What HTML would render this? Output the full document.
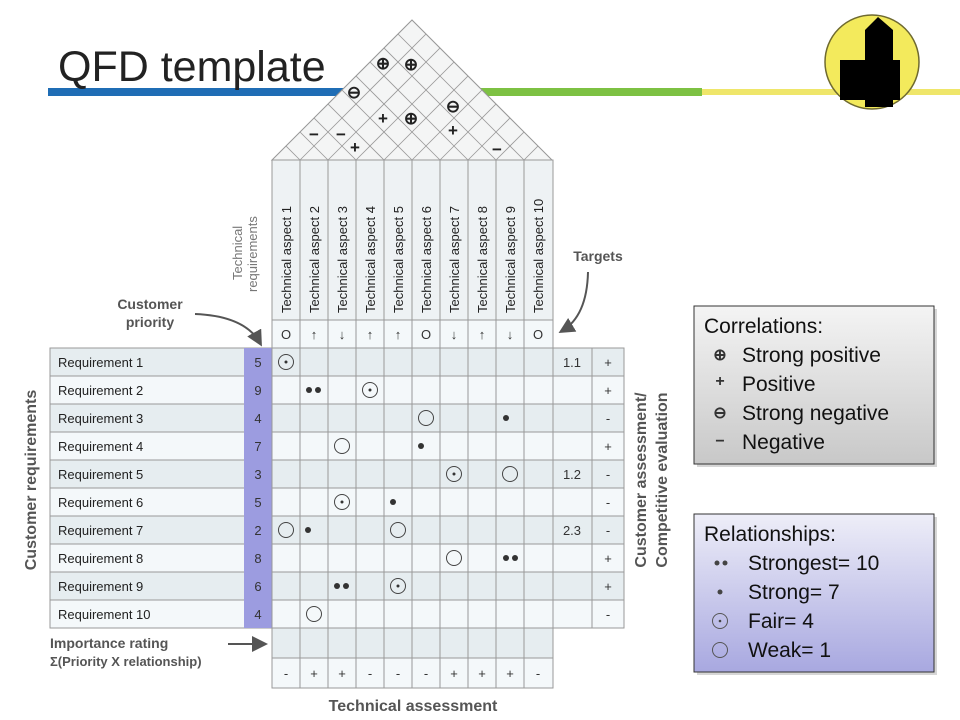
<!DOCTYPE html>
<html><head><meta charset="utf-8"><style>
html,body{margin:0;padding:0;background:#fff}
svg{display:block}
text{font-family:"Liberation Sans",sans-serif}
</style></head><body>
<svg width="960" height="720" viewBox="0 0 960 720" xmlns="http://www.w3.org/2000/svg">
<defs>
<clipPath id="roof"><polygon points="272,160 412,20 552,160"/></clipPath>
<linearGradient id="gg" x1="0" y1="0" x2="0" y2="1"><stop offset="0" stop-color="#f4f4f4"/><stop offset="1" stop-color="#c8c8c8"/></linearGradient>
<linearGradient id="pg" x1="0" y1="0" x2="0" y2="1"><stop offset="0" stop-color="#eeeef8"/><stop offset="1" stop-color="#a8a8e0"/></linearGradient>
<marker id="ah" markerWidth="8" markerHeight="8" refX="6" refY="4" orient="auto"><path d="M0,0 L8,4 L0,8 z" fill="#555"/></marker>
</defs>
<!-- bars -->
<rect x="48" y="88" width="300" height="8" fill="#1f6db5"/>
<rect x="480" y="88" width="222" height="8" fill="#7dc143"/>
<rect x="702" y="89" width="258" height="6" fill="#efe66a"/>
<text x="58" y="81" font-size="43" fill="#222">QFD template</text>
<!-- logo -->
<circle cx="872" cy="62" r="47" fill="#f3ea5c" stroke="#6f6a30" stroke-width="1.5"/>
<polygon points="865,30 878,17 893,30 893,60 900,60 900,100 893,100 893,107 865,107 865,100 840,100 840,60 865,60" fill="#000"/>
<!-- roof -->
<polygon points="272,160 412,20 552,160" fill="#f4f5f5" stroke="#999" stroke-width="1"/>
<g clip-path="url(#roof)" stroke="#999" stroke-width="0.8">
<line x1="272" y1="160" x2="472" y2="-40"/><line x1="300" y1="160" x2="500" y2="-40"/><line x1="328" y1="160" x2="528" y2="-40"/><line x1="356" y1="160" x2="556" y2="-40"/><line x1="384" y1="160" x2="584" y2="-40"/><line x1="412" y1="160" x2="612" y2="-40"/><line x1="440" y1="160" x2="640" y2="-40"/><line x1="468" y1="160" x2="668" y2="-40"/><line x1="496" y1="160" x2="696" y2="-40"/><line x1="524" y1="160" x2="724" y2="-40"/>
<line x1="552" y1="160" x2="352" y2="-40"/><line x1="524" y1="160" x2="324" y2="-40"/><line x1="496" y1="160" x2="296" y2="-40"/><line x1="468" y1="160" x2="268" y2="-40"/><line x1="440" y1="160" x2="240" y2="-40"/><line x1="412" y1="160" x2="212" y2="-40"/><line x1="384" y1="160" x2="184" y2="-40"/><line x1="356" y1="160" x2="156" y2="-40"/><line x1="328" y1="160" x2="128" y2="-40"/><line x1="300" y1="160" x2="100" y2="-40"/>
</g>
<g font-size="17" font-weight="bold" fill="#222" text-anchor="middle">
<text x="383" y="69">⊕</text><text x="411" y="70">⊕</text>
<text x="354" y="98">⊖</text><text x="453" y="112">⊖</text>
<text x="383" y="124">+</text><text x="411" y="124">⊕</text>
<text x="453" y="136">+</text><text x="355" y="153">+</text>
<text x="314" y="140">−</text><text x="341" y="140">−</text><text x="497" y="155">−</text>
</g>
<!-- header area -->
<rect x="272" y="160" width="281" height="188" fill="#eef2f4" stroke="#999"/>
<rect x="272" y="320" width="281" height="28" fill="#f4f8fa" stroke="#999"/>
<g stroke="#999"><line x1="300" y1="160" x2="300" y2="348"/><line x1="328" y1="160" x2="328" y2="348"/><line x1="356" y1="160" x2="356" y2="348"/><line x1="384" y1="160" x2="384" y2="348"/><line x1="412" y1="160" x2="412" y2="348"/><line x1="440" y1="160" x2="440" y2="348"/><line x1="468" y1="160" x2="468" y2="348"/><line x1="496" y1="160" x2="496" y2="348"/><line x1="524" y1="160" x2="524" y2="348"/></g>
<g font-size="13" fill="#222">
<text transform="translate(291,313) rotate(-90)">Technical aspect 1</text>
<text transform="translate(319,313) rotate(-90)">Technical aspect 2</text>
<text transform="translate(347,313) rotate(-90)">Technical aspect 3</text>
<text transform="translate(375,313) rotate(-90)">Technical aspect 4</text>
<text transform="translate(403,313) rotate(-90)">Technical aspect  5</text>
<text transform="translate(431,313) rotate(-90)">Technical aspect  6</text>
<text transform="translate(459,313) rotate(-90)">Technical aspect 7</text>
<text transform="translate(487,313) rotate(-90)">Technical aspect 8</text>
<text transform="translate(515,313) rotate(-90)">Technical aspect 9</text>
<text transform="translate(543,313) rotate(-90)">Technical aspect 10</text>
</g>
<g font-size="13" fill="#333" text-anchor="middle">
<text x="286" y="339">O</text><text x="314" y="339">↑</text><text x="342" y="339">↓</text><text x="370" y="339">↑</text><text x="398" y="339">↑</text><text x="426" y="339">O</text><text x="454" y="339">↓</text><text x="482" y="339">↑</text><text x="510" y="339">↓</text><text x="538" y="339">O</text>
</g>
<!-- rows -->
<g stroke="#999" stroke-width="1">
<rect x="50" y="348" width="574" height="28" fill="#e6edf0"/>
<rect x="50" y="376" width="574" height="28" fill="#f4f8fa"/>
<rect x="50" y="404" width="574" height="28" fill="#e6edf0"/>
<rect x="50" y="432" width="574" height="28" fill="#f4f8fa"/>
<rect x="50" y="460" width="574" height="28" fill="#e6edf0"/>
<rect x="50" y="488" width="574" height="28" fill="#f4f8fa"/>
<rect x="50" y="516" width="574" height="28" fill="#e6edf0"/>
<rect x="50" y="544" width="574" height="28" fill="#f4f8fa"/>
<rect x="50" y="572" width="574" height="28" fill="#e6edf0"/>
<rect x="50" y="600" width="574" height="28" fill="#f4f8fa"/>
<rect x="272" y="628" width="281" height="30" fill="#e6edf0"/>
<rect x="272" y="658" width="281" height="30" fill="#f4f8fa"/>
</g>
<rect x="244" y="348" width="28" height="280" fill="#9c9ce0"/>
<g stroke="#999"><line x1="300" y1="348" x2="300" y2="688"/><line x1="328" y1="348" x2="328" y2="688"/><line x1="356" y1="348" x2="356" y2="688"/><line x1="384" y1="348" x2="384" y2="688"/><line x1="412" y1="348" x2="412" y2="688"/><line x1="440" y1="348" x2="440" y2="688"/><line x1="468" y1="348" x2="468" y2="688"/><line x1="496" y1="348" x2="496" y2="688"/><line x1="524" y1="348" x2="524" y2="688"/><line x1="553" y1="348" x2="553" y2="628"/><line x1="592" y1="348" x2="592" y2="628"/><line x1="272" y1="348" x2="272" y2="688"/></g>
<g font-size="13" fill="#222">
<text x="58" y="367">Requirement 1</text><text x="58" y="395">Requirement 2</text><text x="58" y="423">Requirement 3</text><text x="58" y="451">Requirement 4</text><text x="58" y="479">Requirement 5</text><text x="58" y="507">Requirement 6</text><text x="58" y="535">Requirement 7</text><text x="58" y="563">Requirement 8</text><text x="58" y="591">Requirement 9</text><text x="58" y="619">Requirement 10</text>
</g>
<g font-size="13" fill="#333" text-anchor="middle">
<text x="258" y="367">5</text><text x="258" y="395">9</text><text x="258" y="423">4</text><text x="258" y="451">7</text><text x="258" y="479">3</text><text x="258" y="507">5</text><text x="258" y="535">2</text><text x="258" y="563">8</text><text x="258" y="591">6</text><text x="258" y="619">4</text>
<text x="572" y="367">1.1</text><text x="572" y="479">1.2</text><text x="572" y="535">2.3</text>
<text x="608" y="367">+</text><text x="608" y="395">+</text><text x="608" y="423">-</text><text x="608" y="451">+</text><text x="608" y="479">-</text><text x="608" y="507">-</text><text x="608" y="535">-</text><text x="608" y="563">+</text><text x="608" y="591">+</text><text x="608" y="619">-</text>
<text x="286" y="678">-</text><text x="314" y="678">+</text><text x="342" y="678">+</text><text x="370" y="678">-</text><text x="398" y="678">-</text><text x="426" y="678">-</text><text x="454" y="678">+</text><text x="482" y="678">+</text><text x="510" y="678">+</text><text x="538" y="678">-</text>
</g>
<!-- relationship symbols -->
<g fill="none" stroke="#444" stroke-width="1">
<circle cx="286" cy="362" r="7.5"/><circle cx="370" cy="390" r="7.5"/><circle cx="426" cy="418" r="7.5"/><circle cx="342" cy="446" r="7.5"/><circle cx="454" cy="474" r="7.5"/><circle cx="510" cy="474" r="7.5"/><circle cx="342" cy="502" r="7.5"/><circle cx="286" cy="530" r="7.5"/><circle cx="398" cy="530" r="7.5"/><circle cx="454" cy="558" r="7.5"/><circle cx="398" cy="586" r="7.5"/><circle cx="314" cy="614" r="7.5"/>
</g>
<g fill="#333">
<circle cx="286" cy="362" r="1.5"/><circle cx="370" cy="390" r="1.5"/><circle cx="454" cy="474" r="1.5"/><circle cx="342" cy="502" r="1.5"/><circle cx="398" cy="586" r="1.5"/>
<circle cx="309" cy="390" r="3"/><circle cx="318" cy="390" r="3"/>
<circle cx="506" cy="418" r="3"/><circle cx="421" cy="446" r="3"/><circle cx="393" cy="502" r="3"/><circle cx="308" cy="530" r="3"/>
<circle cx="506" cy="558" r="3"/><circle cx="515" cy="558" r="3"/>
<circle cx="337" cy="586" r="3"/><circle cx="346" cy="586" r="3"/>
</g>
<!-- labels -->
<g font-size="13" fill="#777"><text transform="translate(242,280) rotate(-90)">Technical</text><text transform="translate(257,292) rotate(-90)">requirements</text></g>
<g font-size="14" font-weight="bold" fill="#555">
<text x="150" y="309" text-anchor="middle">Customer</text><text x="150" y="327" text-anchor="middle">priority</text>
<text x="598" y="261" text-anchor="middle">Targets</text>
<text x="50" y="648">Importance rating</text><text x="50" y="666" font-size="13">Σ(Priority X relationship)</text>
</g>
<text x="413" y="711" font-size="16" font-weight="bold" fill="#555" text-anchor="middle">Technical assessment</text>
<text transform="translate(36,480) rotate(-90)" font-size="16" font-weight="bold" fill="#555" text-anchor="middle">Customer requirements</text>
<text transform="translate(646,480) rotate(-90)" font-size="16" font-weight="bold" fill="#555" text-anchor="middle">Customer assessment/</text>
<text transform="translate(667,480) rotate(-90)" font-size="16" font-weight="bold" fill="#555" text-anchor="middle">Competitive evaluation</text>
<g fill="none" stroke="#555" stroke-width="2">
<path d="M195,314 Q245,316 260,343" marker-end="url(#ah)"/>
<path d="M588,272 Q587,316 562,331" marker-end="url(#ah)"/>
<path d="M228,644 L264,644" marker-end="url(#ah)"/>
</g>
<!-- legends -->
<rect x="697" y="309" width="240" height="158" fill="#999" opacity="0.4"/>
<rect x="694" y="306" width="240" height="158" fill="url(#gg)" stroke="#333"/>
<g font-size="21" fill="#111">
<text x="704" y="333">Correlations:</text>
<text x="742" y="362">Strong positive</text><text x="742" y="391">Positive</text><text x="742" y="420">Strong negative</text><text x="742" y="449">Negative</text>
</g>
<g font-size="16" font-weight="bold" fill="#333" text-anchor="middle"><text x="720" y="360">⊕</text><text x="720" y="386">+</text><text x="720" y="418">⊖</text><text x="720" y="446">−</text></g>
<rect x="697" y="517" width="240" height="158" fill="#999" opacity="0.4"/>
<rect x="694" y="514" width="240" height="158" fill="url(#pg)" stroke="#333"/>
<g font-size="21" fill="#111">
<text x="704" y="541">Relationships:</text>
<text x="748" y="570">Strongest= 10</text><text x="748" y="599">Strong= 7</text><text x="748" y="628">Fair= 4</text><text x="748" y="657">Weak= 1</text>
</g>
<g fill="#444"><circle cx="717" cy="563" r="2.5"/><circle cx="725" cy="563" r="2.5"/><circle cx="720" cy="592" r="2.5"/><circle cx="720" cy="621" r="1.3"/></g>
<g fill="none" stroke="#555"><circle cx="720" cy="621" r="7.5"/><circle cx="720" cy="650" r="7.5"/></g>
</svg>
</body></html>
